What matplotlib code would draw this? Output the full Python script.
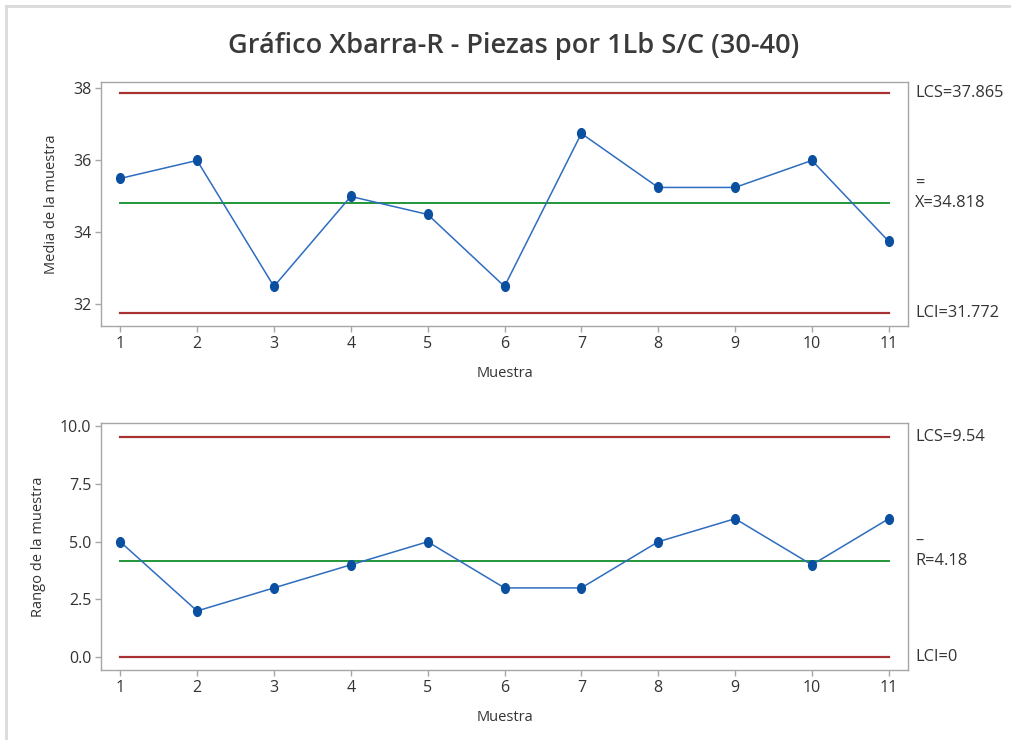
import matplotlib
matplotlib.use("Agg")
import matplotlib.pyplot as plt
import numpy as np
from matplotlib import font_manager
from matplotlib.path import Path
from matplotlib.lines import Line2D
from matplotlib.transforms import blended_transform_factory, offset_copy

# --- data -------------------------------------------------------------
muestras = list(range(1, 12))
medias = [35.5, 36.0, 32.5, 35.0, 34.5, 32.5, 36.75, 35.25, 35.25, 36.0, 33.75]
rangos = [5, 2, 3, 4, 5, 3, 3, 5, 6, 4, 6]

x_media_label = "34.818"
lcs_media, lc_media, lci_media = 37.865, 34.818, 31.772
lcs_rango, lc_rango, lci_rango = 9.54, 4.18, 0.0

titulo = "Gráfico Xbarra-R - Piezas por 1Lb S/C (30-40)"

# --- fonts ------------------------------------------------------------
names = {f.name for f in font_manager.fontManager.ttflist}
family = "Liberation Sans Narrow" if "Liberation Sans Narrow" in names else "Open Sans"
plt.rcParams["font.family"] = [family, "DejaVu Sans"]

RED = "#A83232"
GREEN = "#23963A"
BLUE_LINE = "#2E6DBF"
BLUE_MARK = "#0B4FA0"
SPINE = "#A6A6A6"
TEXT = "#333333"

circ = Path.unit_circle()
dot = Path(circ.vertices * np.array([0.8, 1.0]), circ.codes)

fig = plt.figure(figsize=(10.11, 7.40), dpi=100)

# window frame along top and left edges
fig.add_artist(Line2D([6 / 1011, 1], [1 - 6 / 740, 1 - 6 / 740], transform=fig.transFigure,
                      color="#DADADA", lw=2))
fig.add_artist(Line2D([6 / 1011, 6 / 1011], [0, 1 - 6 / 740], transform=fig.transFigure,
                      color="#DADADA", lw=2))

ax1 = fig.add_axes([101 / 1011, 1 - 326 / 740, 807 / 1011, 244 / 740])
ax2 = fig.add_axes([101 / 1011, 1 - 670 / 740, 807 / 1011, 247 / 740])


def draw(ax, vals, lcs, lc, lci, ylim, yticks, yfmt, ylabel, labels):
    span = dict(xmin=(1 - 0.75) / 10.5, xmax=(11 - 0.75) / 10.5)
    ax.axhline(lcs, color=RED, lw=1.6, **span)
    ax.axhline(lci, color=RED, lw=1.6, **span)
    ax.axhline(lc, color=GREEN, lw=1.4, **span)
    ax.plot(muestras, vals, color=BLUE_LINE, lw=1.1, marker=dot, ms=7,
            mfc=BLUE_MARK, mec=BLUE_MARK, zorder=3)
    ax.set_xlim(0.75, 11.25)
    ax.set_ylim(*ylim)
    ax.set_xticks(muestras)
    ax.set_yticks(yticks)
    ax.set_yticklabels([yfmt.format(v) for v in yticks])
    for s in ax.spines.values():
        s.set_color(SPINE)
        s.set_linewidth(1.0)
    ax.tick_params(axis="both", direction="out", length=4, width=1, color=SPINE,
                   labelsize=11.5, labelcolor=TEXT, pad=3)
    ax.set_xlabel("Muestra", fontsize=10.5, color=TEXT, labelpad=10)
    ax.set_ylabel(ylabel, fontsize=10.5, color=TEXT, labelpad=10)

    tr = blended_transform_factory(ax.transAxes, ax.transData)
    tx = 1.0087
    kw = dict(ha="left", va="center", fontsize=11.8, color=TEXT)
    ax.text(tx, lcs, labels[0], transform=tr, **kw)
    ax.text(tx, lc, labels[1], transform=tr, **kw)
    ax.text(tx, lc, labels[2], transform=offset_copy(tr, fig=fig, x=0, y=14, units="points"), **kw)
    ax.text(tx, lci, labels[3], transform=tr, **kw)


draw(ax1, medias, lcs_media, lc_media, lci_media, (31.40, 38.18), [32, 34, 36, 38], "{:.0f}",
     "Media de la muestra",
     [f"LCS={lcs_media:.3f}", f"X={x_media_label}", "=", f"LCI={lci_media:.3f}"])
draw(ax2, rangos, lcs_rango, lc_rango, lci_rango, (-0.56, 10.15), [0.0, 2.5, 5.0, 7.5, 10.0],
     "{:.1f}", "Rango de la muestra",
     [f"LCS={lcs_rango:.2f}", f"R={lc_rango:.2f}", "–", "LCI=0"])

fig.text(514 / 1011, 1 - 46 / 740, titulo, ha="center", va="center", fontsize=19.5,
         fontweight="semibold", color="#3A3A3A")

fig.savefig("out.png", dpi=100)
